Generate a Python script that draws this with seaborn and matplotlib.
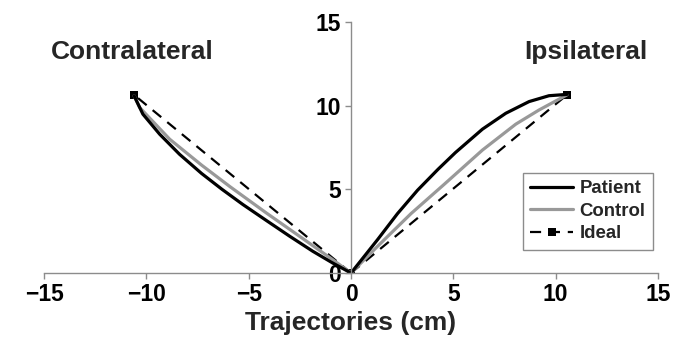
import matplotlib
matplotlib.use("Agg")
import matplotlib.pyplot as plt
import seaborn as sns
import pandas as pd
from matplotlib.lines import Line2D

# ---- data (cm) ----
patient_ipsi_x = [0, 0.65, 1.3, 2.27, 3.25, 4.25, 5.1, 6.42, 7.56, 8.7, 9.67, 10.55]
patient_ipsi_y = [0, 1.0, 2.0, 3.55, 4.95, 6.2, 7.2, 8.6, 9.55, 10.25, 10.6, 10.68]
control_ipsi_x = [0, 1.3, 2.93, 4.55, 6.42, 8.05, 9.19, 10.55]
control_ipsi_y = [0, 1.6, 3.55, 5.3, 7.35, 8.9, 9.75, 10.65]
patient_contra_x = [0, -0.9, -1.87, -3.0, -4.15, -5.29, -6.3, -7.3, -8.38, -9.35, -10.17, -10.6]
patient_contra_y = [0, 0.6, 1.3, 2.2, 3.15, 4.1, 5.0, 5.95, 7.1, 8.3, 9.5, 10.6]
control_contra_x = [0, -0.9, -2.52, -4.15, -5.9, -7.3, -8.86, -10.33, -10.6]
control_contra_y = [0, 0.8, 2.2, 3.6, 5.15, 6.45, 8.0, 9.9, 10.6]
ideal_ipsi_x = [0, 10.55]
ideal_ipsi_y = [0, 10.65]
ideal_contra_x = [0, -10.6]
ideal_contra_y = [0, 10.65]

series_names = ["Patient", "Control", "Ideal"]
x_ticks = [-15, -10, -5, 0, 5, 10, 15]
y_ticks = [0, 5, 10, 15]

sns.set_style("white")
plt.rcParams["font.family"] = ["Liberation Sans", "DejaVu Sans"]
plt.rcParams["font.weight"] = "bold"

fig = plt.figure(figsize=(6.91, 3.46), dpi=100)
ax = fig.add_axes([0.0637, 0.211, 0.8886, 0.725])

gray_axis = "#8c8c8c"
patient_style = dict(color="black", linewidth=2.3)
control_style = dict(color="#999999", linewidth=2.3)
ideal_style = dict(color="black", linewidth=1.6, linestyle=(0, (5, 3.5)),
                   marker="s", markersize=6, markeredgewidth=0)

def draw(xs, ys, **kw):
    df = pd.DataFrame({"x": xs, "y": ys})
    sns.lineplot(data=df, x="x", y="y", sort=False, estimator=None, ax=ax, **kw)

draw(ideal_ipsi_x, ideal_ipsi_y, **ideal_style)
draw(ideal_contra_x, ideal_contra_y, **ideal_style)
draw(control_ipsi_x, control_ipsi_y, **control_style)
draw(control_contra_x, control_contra_y, **control_style)
draw(patient_ipsi_x, patient_ipsi_y, **patient_style)
draw(patient_contra_x, patient_contra_y, **patient_style)

for s in ["top", "right"]:
    ax.spines[s].set_visible(False)
ax.spines["left"].set_position(("data", 0))
for s in ["left", "bottom"]:
    ax.spines[s].set_color(gray_axis)
    ax.spines[s].set_linewidth(1.0)

ax.set_xlim(-15, 15)
ax.set_ylim(0, 15)
ax.set_xticks(x_ticks)
ax.set_yticks(y_ticks)
ax.set_xticklabels([f"{t}".replace("-", "\u2212") for t in x_ticks], fontsize=16.5, fontweight="bold")
ax.set_yticklabels([str(t) for t in y_ticks], fontsize=16.5, fontweight="bold")
ax.set_xlabel("Trajectories (cm)", fontsize=19, fontweight="bold", labelpad=4)
ax.set_ylabel("")
ax.tick_params(axis="both", direction="out", length=4, width=1.0, color=gray_axis,
               pad=3, labelcolor="black", left=True, bottom=True)

ax.text(-10.7, 13.2, "Contralateral", fontsize=19, fontweight="bold", ha="center", va="center")
ax.text(11.45, 13.2, "Ipsilateral", fontsize=19, fontweight="bold", ha="center", va="center")

handles = [
    Line2D([], [], **patient_style),
    Line2D([], [], **control_style),
    Line2D([], [], **ideal_style),
]
leg = ax.legend(handles, series_names, loc="upper right", bbox_to_anchor=(0.992, 0.40),
                frameon=True, fancybox=False, edgecolor=gray_axis, framealpha=1,
                prop={"size": 13.4, "weight": "bold"}, handlelength=2.3,
                handletextpad=0.35, labelspacing=0.3, borderpad=0.4, borderaxespad=0,
                numpoints=1)
leg.get_frame().set_linewidth(1.0)

fig.savefig("out.png", dpi=100)
